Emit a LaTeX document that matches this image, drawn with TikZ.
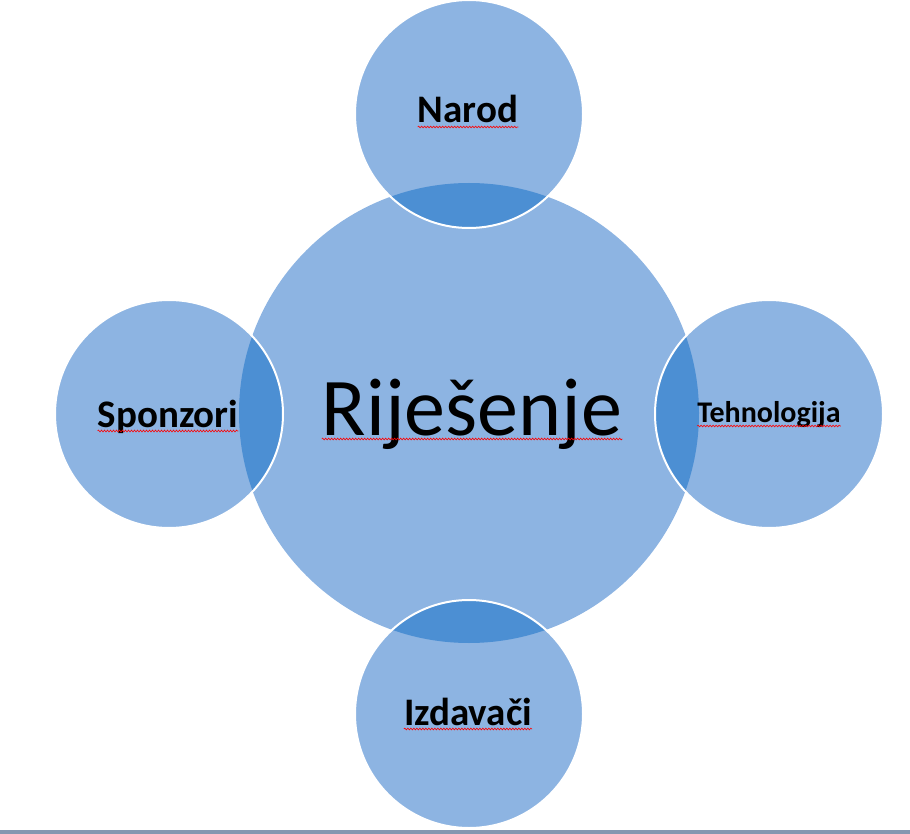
\documentclass[tikz,border=0pt]{standalone}
\usepackage{fontspec}
\setmainfont{Carlito}
\usetikzlibrary{decorations.pathmorphing}

\definecolor{lightblue}{RGB}{141,180,226}
\definecolor{darkblue}{RGB}{76,143,211}
\definecolor{bargray}{RGB}{133,151,176}

\begin{document}
\begin{tikzpicture}[x=1pt,y=-1pt,
  hub/.style={circle,fill=lightblue,minimum size=460pt,inner sep=0pt},
  part/.style={circle,fill=lightblue,draw=white,line width=2pt,
    minimum size=228pt,inner sep=0pt,
    path picture={\fill[darkblue] (sol.center) circle[radius=230];}},
  lbl/.style={anchor=base,inner sep=0pt,font=\fontsize{39}{44}\selectfont\bfseries},
  squiggle/.style={red,line width=0.6pt,decorate,
    decoration={snake,amplitude=0.9pt,segment length=3pt}}]
  \useasboundingbox (0,0) rectangle (910,834);

  \node[hub] (sol) at (469,413) {};
  \node[part] (narod) at (469,114) {};
  \node[part] (sponz) at (169,414) {};
  \node[part] (tehno) at (769,414) {};
  \node[part] (izdav) at (469,714) {};

  \node[lbl,font=\fontsize{82}{92}\selectfont] (soltxt) at (472,435) {Riješenje};
  \node[lbl] (narodtxt) at (468,123) {Narod};
  \node[lbl] (sponztxt) at (168,427) {Sponzori};
  \node[lbl,font=\fontsize{30}{34}\selectfont\bfseries] (tehnotxt) at (769,422) {Tehnologija};
  \node[lbl] (izdavtxt) at (468,725) {Izdavači};

  % spell-check underlines
  \foreach \t in {soltxt,narodtxt,sponztxt,tehnotxt,izdavtxt}
    \draw[squiggle] ([yshift=-4pt]\t.base west) -- ([yshift=-4pt]\t.base east);

  \fill[bargray] (0,830) rectangle (910,834);
\end{tikzpicture}
\end{document}
